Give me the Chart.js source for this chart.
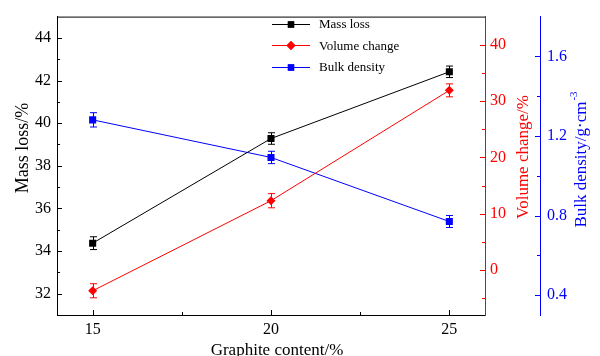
<!DOCTYPE html>
<html>
<head>
<meta charset="utf-8">
<script src="https://cdn.jsdelivr.net/npm/chart.js@4.4.1/dist/chart.umd.min.js"></script>
<style>
html, body { margin: 0; padding: 0; background: #fff; }
#chart { display: block; }
</style>
</head>
<body>
<canvas id="chart" width="600" height="356"></canvas>
<script>
var graphite = [15, 20, 25];
var massLoss = [34.37, 39.28, 42.41];
var massLossErr = [0.3, 0.27, 0.27];
var volumeChange = [-3.7, 12.3, 31.9];
var volumeChangeErr = [1.25, 1.26, 1.15];
var bulkDensity = [1.281, 1.092, 0.770];
var bulkDensityErr = [0.036, 0.031, 0.03];

var xTicks = [15, 20, 25];
var xMinor = [17.5, 22.5];
var massTicks = [32, 34, 36, 38, 40, 42, 44];
var massMinor = [33, 35, 37, 39, 41, 43];
var volumeTicks = [0, 10, 20, 30, 40];
var volumeMinor = [-5, 5, 15, 25, 35];
var densityTicks = [0.4, 0.8, 1.2, 1.6];
var densityMinor = [0.6, 1.0, 1.4];

var serif = "'Liberation Serif', 'Times New Roman', serif";
var RED = '#ff0000';
var BLUE = '#0000ff';

function points(ys) {
    return graphite.map(function (g, i) { return { x: g, y: ys[i] }; });
}

var minorTicks = { x: xMinor, y: massMinor, y1: volumeMinor, y2: densityMinor };
var errors = [massLossErr, volumeChangeErr, bulkDensityErr];

// tick marks pointing into the plot, like the original
var innerTicks = {
    id: 'innerTicks',
    afterDraw: function (chart) {
        var c = chart.ctx;
        var area = chart.chartArea;
        Object.keys(minorTicks).forEach(function (id) {
            var s = chart.scales[id];
            var col = s.options.border.color;
            c.save();
            c.strokeStyle = col;
            c.lineWidth = 1;
            var marks = s.ticks.map(function (t) { return [t.value, 5]; })
                .concat(minorTicks[id].map(function (v) { return [v, 3]; }));
            marks.forEach(function (m) {
                var p = Math.round(s.getPixelForValue(m[0])) + 0.5;
                c.beginPath();
                if (id === 'x') {
                    c.moveTo(p, area.bottom);
                    c.lineTo(p, area.bottom - m[1]);
                } else if (s.position === 'left') {
                    c.moveTo(s.right, p);
                    c.lineTo(s.right + m[1], p);
                } else {
                    c.moveTo(s.left, p);
                    c.lineTo(s.left - m[1], p);
                }
                c.stroke();
            });
            c.restore();
        });
        // top frame
        c.save();
        c.strokeStyle = '#000';
        c.beginPath();
        c.moveTo(area.left, area.top + 0.5);
        c.lineTo(area.right, area.top + 0.5);
        c.stroke();
        c.restore();
    }
};

var errorBars = {
    id: 'errorBars',
    afterDatasetsDraw: function (chart) {
        var c = chart.ctx;
        chart.data.datasets.forEach(function (ds, i) {
            var meta = chart.getDatasetMeta(i);
            var s = chart.scales[ds.yAxisID];
            c.save();
            c.strokeStyle = ds.borderColor;
            c.lineWidth = 1;
            meta.data.forEach(function (pt, j) {
                var v = ds.data[j].y;
                var e = errors[i][j];
                var top = s.getPixelForValue(v + e);
                var bot = s.getPixelForValue(v - e);
                var x = Math.round(pt.x) + 0.5;
                c.beginPath();
                c.moveTo(x, top); c.lineTo(x, bot);
                c.moveTo(x - 3.5, top); c.lineTo(x + 3.5, top);
                c.moveTo(x - 3.5, bot); c.lineTo(x + 3.5, bot);
                c.stroke();
            });
            c.restore();
        });
    }
};

var legendAndTitles = {
    id: 'legendAndTitles',
    afterDraw: function (chart) {
        var c = chart.ctx;
        var rows = [
            { label: 'Mass loss', color: '#000', style: 'rect' },
            { label: 'Volume change', color: RED, style: 'rectRot' },
            { label: 'Bulk density', color: BLUE, style: 'rect' }
        ];
        c.save();
        c.font = '13px ' + serif;
        c.textBaseline = 'middle';
        rows.forEach(function (r, i) {
            var y = 24 + i * 21.3;
            c.strokeStyle = r.color;
            c.lineWidth = 1;
            c.beginPath();
            c.moveTo(272, Math.round(y) + 0.5);
            c.lineTo(310, Math.round(y) + 0.5);
            c.stroke();
            c.fillStyle = r.color;
            Chart.helpers.drawPoint(c, { pointStyle: r.style, radius: 4.5, borderWidth: 0 }, 291, Math.round(y) + 0.5);
            c.fill();
            c.fillStyle = '#000';
            c.fillText(r.label, 319, y + 1);
        });
        c.restore();

        c.save();
        c.font = '17px ' + serif;
        c.fillStyle = '#000';
        c.textAlign = 'center';
        c.textBaseline = 'alphabetic';
        c.fillText('Graphite content/%', 277, 355);

        c.font = '18px ' + serif;
        c.translate(28, 148);
        c.rotate(-Math.PI / 2);
        c.fillText('Mass loss/%', 0, 0);
        c.restore();

        c.save();
        c.font = '17px ' + serif;
        c.fillStyle = RED;
        c.textAlign = 'center';
        c.translate(528, 157);
        c.rotate(-Math.PI / 2);
        c.fillText('Volume change/%', 0, 0);
        c.restore();

        c.save();
        c.font = '17px ' + serif;
        c.fillStyle = BLUE;
        c.translate(586, 160);
        c.rotate(-Math.PI / 2);
        var main = 'Bulk density/g\u00b7cm';
        var w = c.measureText(main).width;
        c.font = '11px ' + serif;
        var sw = c.measureText('-3').width;
        var x0 = -(w + sw) / 2;
        c.font = '17px ' + serif;
        c.fillText(main, x0, 0);
        c.font = '11px ' + serif;
        c.fillText('-3', x0 + w + 1, -9);
        c.restore();
    }
};

function axis(pos, min, max, color, ticks, width, pad, fmt) {
    return {
        type: 'linear',
        position: pos,
        min: min,
        max: max,
        grid: { drawOnChartArea: false, drawTicks: false },
        border: { color: color, width: 1 },
        afterBuildTicks: function (s) {
            s.ticks = ticks.map(function (v) { return { value: v }; });
        },
        afterFit: function (s) { s.width = width; },
        ticks: {
            color: color,
            padding: pad,
            font: { family: serif, size: 16 },
            callback: fmt
        }
    };
}

new Chart(document.getElementById('chart'), {
    type: 'line',
    data: {
        datasets: [
            {
                label: 'Mass loss',
                data: points(massLoss),
                yAxisID: 'y',
                borderColor: '#000',
                backgroundColor: '#000',
                borderWidth: 1,
                pointStyle: 'rect',
                pointRadius: 5,
                pointBorderWidth: 0
            },
            {
                label: 'Volume change',
                data: points(volumeChange),
                yAxisID: 'y1',
                borderColor: RED,
                backgroundColor: RED,
                borderWidth: 1,
                pointStyle: 'rectRot',
                pointRadius: 4.5,
                pointBorderWidth: 0
            },
            {
                label: 'Bulk density',
                data: points(bulkDensity),
                yAxisID: 'y2',
                borderColor: BLUE,
                backgroundColor: BLUE,
                borderWidth: 1,
                pointStyle: 'rect',
                pointRadius: 5,
                pointBorderWidth: 0
            }
        ]
    },
    options: {
        responsive: false,
        animation: false,
        devicePixelRatio: 1,
        layout: { padding: { top: 9, left: 0, right: 0, bottom: 0 } },
        plugins: { legend: { display: false }, tooltip: { enabled: false } },
        scales: {
            x: {
                type: 'linear',
                position: 'bottom',
                min: 14,
                max: 26,
                grid: { drawOnChartArea: false, drawTicks: false },
                border: { color: '#000', width: 1 },
                afterBuildTicks: function (s) {
                    s.ticks = xTicks.map(function (v) { return { value: v }; });
                },
                afterFit: function (s) { s.height = 41; },
                ticks: {
                    color: '#000',
                    padding: 5,
                    autoSkip: false,
                    maxRotation: 0,
                    font: { family: serif, size: 16 },
                    callback: function (v) { return String(v); }
                }
            },
            y: axis('left', 31, 45, '#000', massTicks, 57, 6, function (v) { return String(v); }),
            y1: axis('right', -8, 45, RED, volumeTicks, 55, 5, function (v) { return String(v); }),
            y2: axis('right', 0.3, 1.8, BLUE, densityTicks, 60, 7, function (v) { return v.toFixed(1); })
        }
    },
    plugins: [innerTicks, errorBars, legendAndTitles]
});
</script>
</body>
</html>
